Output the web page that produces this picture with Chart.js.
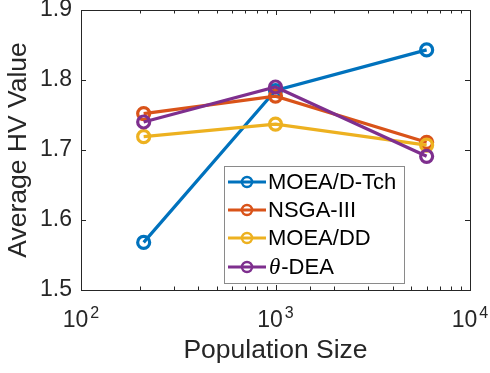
<!DOCTYPE html>
<html>
<head>
<meta charset="utf-8">
<script src="https://cdn.jsdelivr.net/npm/chart.js@4.4.0/dist/chart.umd.min.js"></script>
<style>
  html, body { margin: 0; padding: 0; background: #fff; }
  #wrap { width: 490px; height: 373px; }
</style>
</head>
<body>
<div id="wrap"><canvas id="chart"></canvas></div>
<script>
'use strict';

// ── Data ─────────────────────────────────────────────────────────
const popSizes  = [210, 1000, 5985];
const moeadTch  = [1.568, 1.785, 1.843];
const nsga3     = [1.752, 1.777, 1.711];
const moeadDD   = [1.719, 1.737, 1.707];
const thetaDea  = [1.740, 1.790, 1.691];

const seriesNames = ['MOEA/D-Tch', 'NSGA-III', 'MOEA/DD', 'θ-DEA'];
const yTicks      = [1.5, 1.6, 1.7, 1.8, 1.9];
const xDecades    = [100, 1000, 10000];
const xExponents  = ['2', '3', '4'];

const COLORS = ['#0072BD', '#D95319', '#EDB120', '#7E2F8E'];
const INK    = '#262626';
const FONT   = '"Liberation Sans", Arial, Helvetica, sans-serif';

const toPoints = ys => ys.map((y, i) => ({ x: popSizes[i], y }));

// ── MATLAB-ish box, inward ticks, x labels and legend ───────────
const matlabAxes = {
    id: 'matlabAxes',
    afterDraw(chart) {
        const { ctx, chartArea: a, scales: { x, y } } = chart;
        ctx.save();
        ctx.strokeStyle = INK;
        ctx.lineWidth = 1;

        // box
        ctx.strokeRect(Math.round(a.left) + 0.5, Math.round(a.top) + 0.5,
                       Math.round(a.right - a.left), Math.round(a.bottom - a.top));

        // x ticks (top + bottom, inward)
        ctx.beginPath();
        x.ticks.forEach(t => {
            const px = Math.round(x.getPixelForValue(t.value)) + 0.5;
            const len = xDecades.includes(t.value) ? 5 : 3.5;
            ctx.moveTo(px, a.bottom); ctx.lineTo(px, a.bottom - len);
            ctx.moveTo(px, a.top);    ctx.lineTo(px, a.top + len);
        });
        // y ticks (left + right, inward)
        yTicks.forEach(v => {
            const py = Math.round(y.getPixelForValue(v)) + 0.5;
            ctx.moveTo(a.left, py);  ctx.lineTo(a.left + 5, py);
            ctx.moveTo(a.right, py); ctx.lineTo(a.right - 5, py);
        });
        ctx.stroke();

        // x tick labels 10^n
        ctx.fillStyle = INK;
        ctx.textBaseline = 'alphabetic';
        xDecades.forEach((v, i) => {
            const px = x.getPixelForValue(v);
            ctx.font = `23px ${FONT}`;
            const wBase = ctx.measureText('10').width;
            ctx.font = `16px ${FONT}`;
            const wExp = ctx.measureText(xExponents[i]).width;
            const start = px - (wBase + wExp + 2) / 2;
            ctx.font = `23px ${FONT}`;
            ctx.textAlign = 'left';
            ctx.fillText('10', start, 327);
            ctx.font = `16px ${FONT}`;
            ctx.fillText(xExponents[i], start + wBase + 2, 318);
        });

        // legend
        const box = { l: 224, t: 166, r: 404, b: 283 };
        ctx.fillStyle = '#fff';
        ctx.fillRect(box.l, box.t, box.r - box.l, box.b - box.t);
        ctx.strokeStyle = '#8a8a8a';
        ctx.lineWidth = 1;
        ctx.strokeRect(box.l + 0.5, box.t + 0.5, box.r - box.l, box.b - box.t);

        const rows = [182, 210, 238, 267];
        chart.data.datasets.forEach((ds, i) => {
            const ry = rows[i];
            ctx.strokeStyle = ds.borderColor;
            ctx.lineWidth = 3;
            ctx.beginPath();
            ctx.moveTo(228, ry); ctx.lineTo(266, ry);
            ctx.stroke();
            ctx.lineWidth = 2.5;
            ctx.beginPath();
            ctx.arc(247, ry, 5, 0, Math.PI * 2);
            ctx.stroke();

            ctx.fillStyle = '#000';
            ctx.textBaseline = 'middle';
            ctx.textAlign = 'left';
            const name = seriesNames[i];
            if (name.startsWith('θ')) {
                ctx.font = `italic 23px "Liberation Serif", "Times New Roman", serif`;
                ctx.fillText('θ', 269, ry + 1);
                const w = ctx.measureText('θ').width;
                ctx.font = `22px ${FONT}`;
                ctx.fillText(name.slice(1), 269 + w + 1, ry + 1);
            } else {
                ctx.font = `22px ${FONT}`;
                ctx.fillText(name, 268, ry + 1);
            }
        });
        ctx.restore();
    }
};

const mkDataset = (label, ys, i) => ({
    label,
    data: toPoints(ys),
    borderColor: COLORS[i],
    backgroundColor: 'transparent',
    borderWidth: 3.2,
    pointRadius: 6,
    pointHoverRadius: 6,
    pointBorderWidth: 3.2,
    pointBackgroundColor: 'transparent',
    pointBorderColor: COLORS[i],
    tension: 0,
    order: 3 - i,
});

new Chart(document.getElementById('chart'), {
    type: 'line',
    data: {
        datasets: [
            mkDataset(seriesNames[0], moeadTch, 0),
            mkDataset(seriesNames[1], nsga3, 1),
            mkDataset(seriesNames[2], moeadDD, 2),
            mkDataset(seriesNames[3], thetaDea, 3),
        ]
    },
    options: {
        responsive: true,
        maintainAspectRatio: false,
        animation: false,
        layout: { padding: { top: 10, right: 20, left: 0, bottom: 0 } },
        plugins: {
            legend: { display: false },
            tooltip: { enabled: false },
        },
        scales: {
            x: {
                type: 'logarithmic',
                min: 100,
                max: 10000,
                border: { display: false },
                grid: { display: false },
                ticks: { display: false },
                title: {
                    display: true,
                    text: 'Population Size',
                    color: INK,
                    font: { family: FONT, size: 26.5 },
                    padding: { top: 0, bottom: 6 },
                },
                afterFit: s => { s.height = 83; },
            },
            y: {
                min: 1.5,
                max: 1.9,
                border: { display: false },
                grid: { display: false, drawTicks: false },
                afterBuildTicks: s => { s.ticks = yTicks.map(v => ({ value: v })); },
                ticks: {
                    color: INK,
                    padding: 9,
                    font: { family: FONT, size: 23 },
                    callback: v => v.toFixed(1),
                },
                title: {
                    display: true,
                    text: 'Average HV Value',
                    color: INK,
                    font: { family: FONT, size: 26.5 },
                    padding: { top: 3, bottom: 0 },
                },
                afterFit: s => {
                    s.width = 81;
                    s.paddingTop = 0;
                    s.paddingBottom = 0;
                },
            }
        }
    },
    plugins: [matlabAxes]
});
</script>
</body>
</html>
